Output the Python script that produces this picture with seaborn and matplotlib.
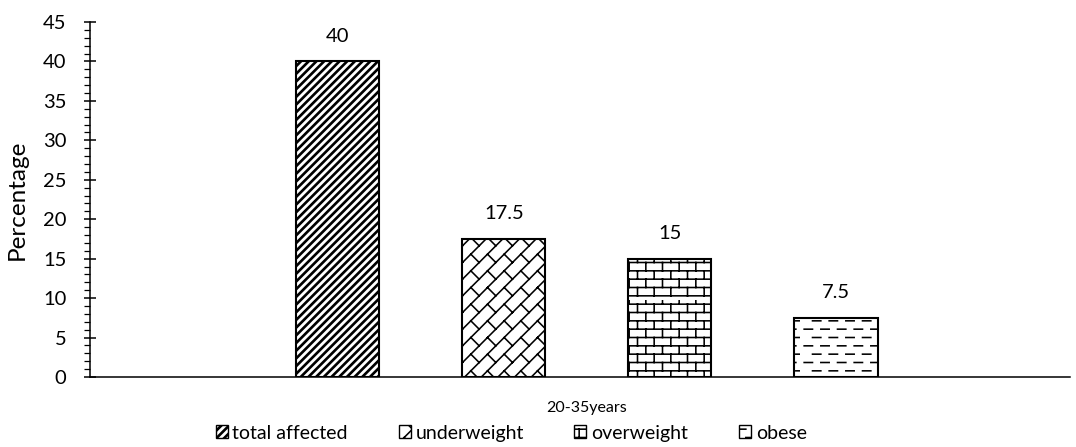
import warnings
import numpy as np
import pandas as pd
import matplotlib
matplotlib.use("Agg")
import matplotlib.pyplot as plt
import matplotlib.patches as mpatches
from matplotlib import hatch as mhatch
from matplotlib.path import Path
from matplotlib.ticker import MultipleLocator
import seaborn as sns

warnings.filterwarnings("ignore")

# ---- data ----
age_group = "20-35years"
categories = ["total affected", "underweight", "overweight", "obese"]
values = [40, 17.5, 15, 7.5]
y_ticks = [0, 5, 10, 15, 20, 25, 30, 35, 40, 45]


# ---- custom hatch patterns (stripes, diagonal brick, brick, dashes) ----
def _fill_segments(segs, vertices, codes):
    arr = np.asarray(segs, dtype=float).reshape(-1, 2)
    vertices[:] = arr
    codes[0::2] = Path.MOVETO
    codes[1::2] = Path.LINETO


class WideStripeHatch(mhatch.HatchPatternBase):
    n = 13          # stripes per hatch cell
    doubling = (0.0, 0.015)   # each stripe drawn as two close strokes

    def __init__(self, hatch, density):
        self.on = "s" in hatch
        self.ks = list(range(-self.n, 2 * self.n + 1))
        self.num_vertices = 2 * len(self.ks) * len(self.doubling) if self.on else 0

    def set_vertices_and_codes(self, vertices, codes):
        segs = []
        for k in self.ks:
            for extra in self.doubling:
                d = k / self.n + extra
                segs.append(((-1 + d, -1), (2 + d, 2)))
        _fill_segments(segs, vertices, codes)


class DiagonalBrickHatch(mhatch.HatchPatternBase):
    n, m = 6, 3  # lines per cell, bricks per unit along the line

    def __init__(self, hatch, density):
        self.on = "d" in hatch
        self.ks = list(range(-2 * self.n, 3 * self.n))
        self.js = list(range(-2 * self.m, 5 * self.m))
        self.num_vertices = (2 * len(self.ks) + 2 * len(self.ks) * len(self.js)) if self.on else 0

    def set_vertices_and_codes(self, vertices, codes):
        segs = []
        dd = 1.0 / self.n
        for k in self.ks:
            d = k * dd + dd / 2
            segs.append(((-2 + d / 2, -2 - d / 2), (3 + d / 2, 3 - d / 2)))
            off = 0.5 * (k % 2)
            for j in self.js:
                s = (j + off) / self.m
                p0 = ((s + d) / 2, (s - d) / 2)
                p1 = ((s + d + dd) / 2, (s - d - dd) / 2)
                segs.append((p0, p1))
        _fill_segments(segs, vertices, codes)


class BrickHatch(mhatch.HatchPatternBase):
    rows, cols = 12, 6

    def __init__(self, hatch, density):
        self.on = "b" in hatch
        self.num_vertices = 2 * (self.rows + self.rows * self.cols) if self.on else 0

    def set_vertices_and_codes(self, vertices, codes):
        h = 1.0 / self.rows
        segs = []
        for r in range(self.rows):
            y0 = (r + 0.5) * h
            segs.append(((0.0, y0), (1.0, y0)))
            off = (0.25 + 0.5 * (r % 2)) / self.cols
            for c in range(self.cols):
                x = c / self.cols + off
                segs.append(((x, y0), (x, y0 + h)))
        _fill_segments(segs, vertices, codes)


class DashHatch(mhatch.HatchPatternBase):
    rows, cols = 12, 6

    def __init__(self, hatch, density):
        self.on = "e" in hatch
        self.num_vertices = 2 * self.rows * self.cols if self.on else 0

    def set_vertices_and_codes(self, vertices, codes):
        segs = []
        h = 1.0 / self.rows
        w = 1.0 / self.cols
        for r in range(self.rows):
            y0 = (r + 0.5) * h
            off = 0.5 * w * (r % 2) + 0.25 * w
            for c in range(self.cols):
                x0 = c * w + off
                segs.append(((x0, y0), (x0 + 0.5 * w, y0)))
        _fill_segments(segs, vertices, codes)


mhatch._hatch_types.extend([WideStripeHatch, DiagonalBrickHatch, BrickHatch, DashHatch])

hatches = ["s", "d", "b", "e"]

# ---- styling ----
sns.set_theme(style="white")
plt.rcParams["font.family"] = ["Lato", "DejaVu Sans"]
plt.rcParams["hatch.linewidth"] = 1.15
plt.rcParams["hatch.color"] = "black"

df = pd.DataFrame({"age": [age_group] * len(categories),
                   "group": categories,
                   "value": values})

fig = plt.figure(figsize=(10.76, 4.47), dpi=100)
ax = fig.add_axes([0.0836, 0.1566, 0.9108, 0.7942])

sns.barplot(data=df, x="age", y="value", hue="group", hue_order=categories,
            width=0.678, gap=0.5, ax=ax, legend=False,
            edgecolor="black", linewidth=1.5)

for cont, h in zip(ax.containers, hatches):
    for bar in cont:
        bar.set_facecolor("white")
        bar.set_edgecolor("black")
        bar.set_hatch(h)
    ax.bar_label(cont, labels=[f"{v:g}" for v in cont.datavalues],
                 padding=12, fontsize=14.5, color="black")

ax.set_xlim(-0.507, 0.493)
ax.set_ylim(0, 45)
ax.set_yticks(y_ticks)
ax.yaxis.set_minor_locator(MultipleLocator(1))
ax.tick_params(axis="y", which="major", direction="inout", length=9,
               width=1.1, color="black", labelsize=14.5, pad=12.5, left=True,
               labelcolor="black")
ax.tick_params(axis="y", which="minor", direction="out", length=4.3,
               width=0.9, color="black", left=True)
ax.tick_params(axis="x", length=0, labelsize=11.5, pad=17, labelcolor="black")

for side in ["top", "right"]:
    ax.spines[side].set_visible(False)
for side in ["left", "bottom"]:
    ax.spines[side].set_color("black")
    ax.spines[side].set_linewidth(1.1)

ax.set_xlabel("")
ax.set_ylabel("Percentage", fontsize=17.5, labelpad=11, color="black")

handles = [mpatches.Patch(facecolor="white", edgecolor="black", hatch=h,
                          linewidth=1.0, label=c)
           for c, h in zip(categories, hatches)]
fig.legend(handles=handles, loc="center", bbox_to_anchor=(0.475, 0.031),
           ncol=4, frameon=False, fontsize=14, handlelength=0.62,
           handleheight=0.62, handletextpad=0.25, columnspacing=2.6,
           labelcolor="black")

fig.savefig("out.png", dpi=100)
